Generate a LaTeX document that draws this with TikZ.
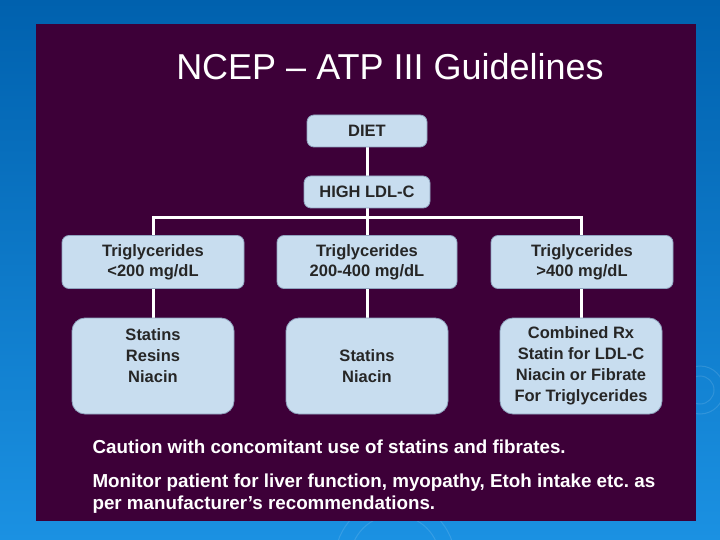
\documentclass[tikz,border=0pt]{standalone}
\usepackage{fontspec}
\setmainfont{Liberation Sans}
\usetikzlibrary{backgrounds}
\frenchspacing
\definecolor{slidebg}{HTML}{3D0038}
\definecolor{boxfill}{HTML}{C8DDEF}
\definecolor{boxline}{HTML}{8FA3BE}
\definecolor{bluetop}{HTML}{0061AE}
\definecolor{bluebot}{HTML}{1B91E2}
\tikzset{
  link/.style={white,line width=3pt},
  tgbox/.style={draw=boxline,fill=boxfill,rounded corners=7pt,line width=0.8pt,
    align=center,font=\fontsize{16.5}{20}\selectfont\bfseries,text=black!85},
  rxbox/.style={tgbox,rounded corners=13pt,minimum width=162pt,minimum height=96pt,
    font=\fontsize{16.5}{21}\selectfont\bfseries},
  note/.style={anchor=west,white,align=left,font=\fontsize{18.8}{22}\selectfont\bfseries}
}
\begin{document}
\begin{tikzpicture}[x=1pt,y=-1pt]
      \useasboundingbox (0,0) rectangle (720,540) ;
      \node[white,font=\fontsize{36}{40}\selectfont] (title) at (390,67) %
      {NCEP -- ATP III Guidelines} ;
      \node[tgbox,minimum width=120pt,minimum height=32pt] (D) at (367,131) {DIET} ;
      \node[tgbox,minimum width=126pt,minimum height=32pt] (H) at (367,192) {HIGH LDL-C} ;
      \coordinate (J) at (367,218) ;
      \node[tgbox,minimum width=182pt,minimum height=53pt] (T1) at (153,262) %
      {Triglycerides\\<200 mg/dL} ;
      \node[tgbox,minimum width=180pt,minimum height=53pt] (T2) at (367,262) %
      {Triglycerides\\200-400 mg/dL} ;
      \node[tgbox,minimum width=182pt,minimum height=53pt] (T3) at (582,262) %
      {Triglycerides\\>400 mg/dL} ;
      \node[rxbox] (R1) at (153,366) {Statins\\Resins\\Niacin\\~} ;
      \node[rxbox] (R2) at (367,366) {Statins\\Niacin} ;
      \node[rxbox] (R3) at (581,366) %
      {Combined Rx\\Statin for LDL-C\\Niacin or Fibrate\\For Triglycerides} ;
      \node[note] (N1) at (89,447) {Caution with concomitant use of statins and fibrates.} ;
      \node[note] (N2) at (89,494) %
      {Monitor patient for liver function, myopathy, Etoh intake etc. as\\per manufacturer’s recommendations.} ;
      \begin{pgfonlayer}{background}
        \shade[top color=bluetop,bottom color=bluebot] (0,0) rectangle (720,540) ;
        \draw[white,opacity=0.12,line width=1pt] (700,390) circle (14) (700,390) circle (24) %
        (395,560) circle (45) (395,560) circle (60) ;
        \fill[slidebg] (36,24) rectangle (696,521) ;
        \draw[link] (D) -- (H) ;
        \draw[link] (H) -- (J) ;
        \draw[link] (J) -| (R1.north) ;
        \draw[link] (J) -| (R3.north) ;
        \draw[link] (J) -- (R2.north) ;
      \end{pgfonlayer}
    \end{tikzpicture}
\end{document}
